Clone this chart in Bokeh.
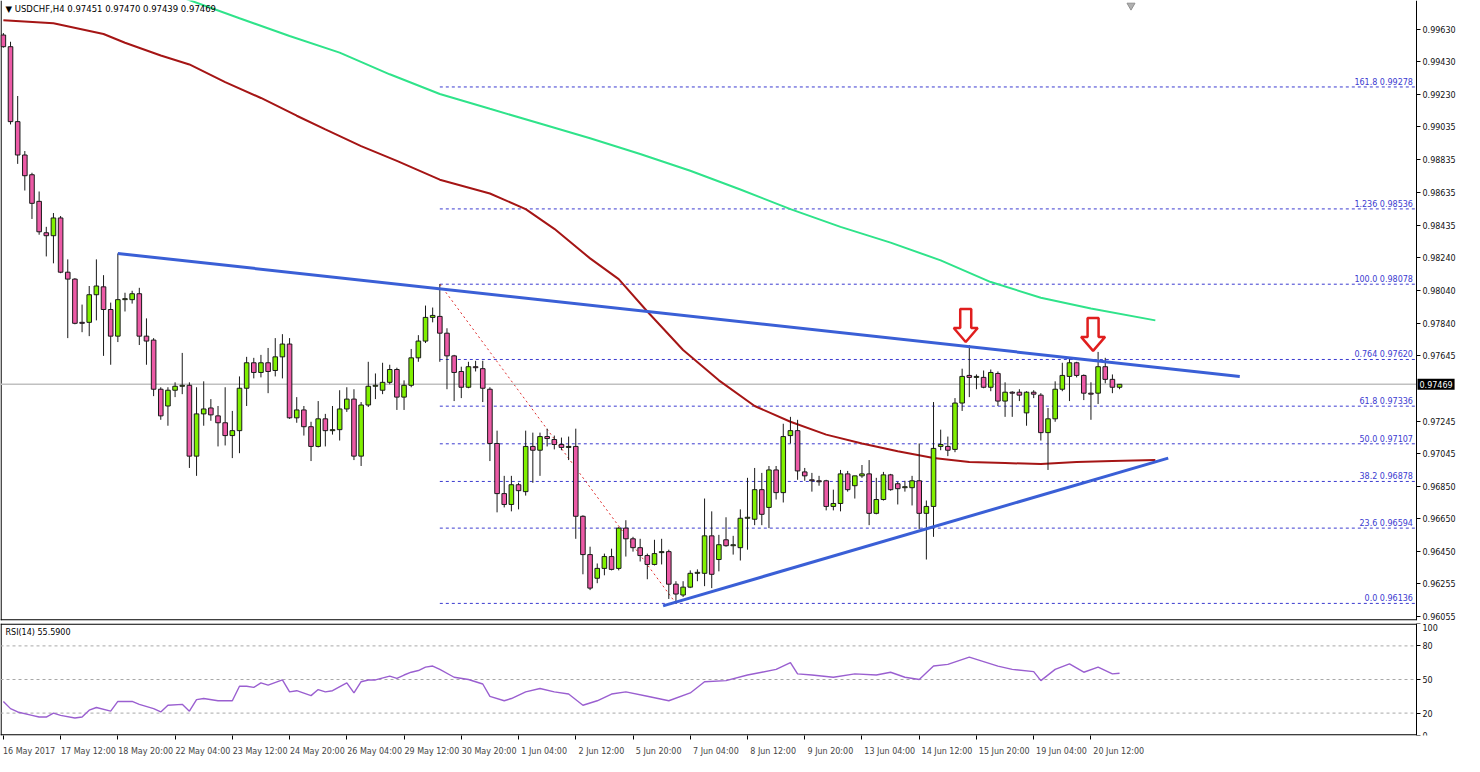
from bokeh.plotting import figure
from bokeh.layouts import column
from bokeh.models import (ColumnDataSource, FixedTicker, LinearAxis, Label, Range1d,
                          CustomJSTickFormatter, PrintfTickFormatter)
from bokeh.embed import file_html
from bokeh.resources import INLINE
from bokeh.core.properties import value

# ---------------- data (USDCHF H4, bar index 0 = 16 May 2017 04:00) ----------------
open_ = [0.99594,0.99523,0.99067,0.98864,0.98744,0.98582,0.98391,0.98373,0.98481,0.98151,
0.98109,0.97846,0.97846,0.98014,0.98062,0.97924,0.97762,0.97984,0.97984,0.98020,
0.97762,0.97738,0.97439,0.97337,0.97433,0.97457,0.97463,0.97032,0.97289,0.97325,
0.97277,0.97235,0.97157,0.97187,0.97445,0.97600,0.97541,0.97600,0.97553,0.97636,
0.97714,0.97265,0.97313,0.97211,0.97091,0.97259,0.97187,0.97193,0.97319,0.97379,
0.97032,0.97343,0.97457,0.97433,0.97481,0.97559,0.97391,0.97463,0.97630,0.97732,
0.97876,0.97882,0.97780,0.97642,0.97547,0.97451,0.97576,0.97564,0.97439,0.97109,
0.96804,0.96738,0.96858,0.96816,0.97091,0.97068,0.97151,0.97133,0.97103,0.97085,
0.97091,0.96666,0.96433,0.96289,0.96349,0.96421,0.96349,0.96594,0.96529,0.96475,
0.96427,0.96373,0.96445,0.96451,0.96253,0.96187,0.96235,0.96319,0.96319,0.96547,
0.96403,0.96523,0.96487,0.96475,0.96654,0.96648,0.96828,0.96720,0.96948,0.96810,
0.97157,0.97187,0.96936,0.96888,0.96882,0.96882,0.96726,0.96744,0.96924,0.96852,
0.96912,0.96924,0.96684,0.96768,0.96918,0.96864,0.96840,0.96840,0.96882,0.96684,
0.96726,0.97091,0.97091,0.97073,0.97355,0.97523,0.97511,0.97511,0.97451,0.97535,
0.97367,0.97421,0.97421,0.97295,0.97421,0.97403,0.97175,0.97259,0.97439,0.97517,
0.97600,0.97523,0.97415,0.97415,0.97576,0.97499,0.97451]

high = [0.99606,0.99553,0.99223,0.98888,0.98756,0.98642,0.98427,0.98511,0.98493,0.98229,
0.98115,0.97954,0.98067,0.98229,0.98133,0.97966,0.98265,0.98026,0.98038,0.98056,
0.97870,0.97750,0.97451,0.97451,0.97481,0.97660,0.97481,0.97451,0.97487,0.97379,
0.97337,0.97451,0.97307,0.97517,0.97636,0.97630,0.97648,0.97690,0.97750,0.97774,
0.97750,0.97391,0.97337,0.97241,0.97367,0.97289,0.97337,0.97433,0.97451,0.97439,
0.97361,0.97606,0.97535,0.97600,0.97588,0.97570,0.97493,0.97684,0.97768,0.97948,
0.97936,0.98078,0.97810,0.97648,0.97576,0.97606,0.97612,0.97612,0.97451,0.97187,
0.96912,0.96912,0.96870,0.97187,0.97175,0.97175,0.97199,0.97157,0.97145,0.97151,
0.97199,0.96672,0.96481,0.96379,0.96439,0.96469,0.96600,0.96642,0.96541,0.96529,
0.96439,0.96523,0.96529,0.96463,0.96271,0.96271,0.96337,0.96343,0.96774,0.96696,
0.96553,0.96660,0.96547,0.96708,0.96900,0.96960,0.96930,0.96972,0.96972,0.97229,
0.97271,0.97253,0.96960,0.96930,0.96912,0.96888,0.96828,0.96948,0.96942,0.96912,
0.96978,0.97008,0.96900,0.96936,0.96924,0.96876,0.96882,0.96912,0.97109,0.96762,
0.97361,0.97193,0.97151,0.97385,0.97564,0.97708,0.97529,0.97553,0.97559,0.97547,
0.97481,0.97427,0.97439,0.97427,0.97433,0.97415,0.97325,0.97487,0.97600,0.97630,
0.97606,0.97529,0.97481,0.97666,0.97630,0.97529,0.97470]

low = [0.99517,0.99050,0.98810,0.98648,0.98475,0.98379,0.98247,0.98205,0.98145,0.97750,
0.97834,0.97786,0.97762,0.97858,0.97642,0.97588,0.97726,0.97912,0.97960,0.97708,
0.97588,0.97397,0.97253,0.97217,0.97391,0.97409,0.96960,0.96912,0.97217,0.97247,
0.97091,0.97097,0.97020,0.97050,0.97337,0.97505,0.97511,0.97415,0.97517,0.97505,
0.97259,0.97235,0.97157,0.97002,0.97085,0.97091,0.97163,0.97127,0.97301,0.97008,
0.96972,0.97331,0.97379,0.97409,0.97469,0.97313,0.97313,0.97451,0.97606,0.97720,
0.97846,0.97606,0.97439,0.97367,0.97385,0.97445,0.97547,0.97361,0.97002,0.96690,
0.96720,0.96696,0.96708,0.96792,0.96870,0.96912,0.97091,0.97073,0.97068,0.97008,
0.96529,0.96313,0.96217,0.96259,0.96307,0.96337,0.96337,0.96421,0.96451,0.96391,
0.96283,0.96367,0.96373,0.96163,0.96136,0.96175,0.96229,0.96271,0.96241,0.96229,
0.96331,0.96481,0.96433,0.96397,0.96463,0.96612,0.96612,0.96594,0.96768,0.96750,
0.97109,0.96888,0.96882,0.96816,0.96852,0.96702,0.96702,0.96696,0.96816,0.96774,
0.96900,0.96612,0.96678,0.96762,0.96822,0.96738,0.96816,0.96732,0.96588,0.96403,
0.96541,0.97068,0.97032,0.97056,0.97307,0.97391,0.97439,0.97445,0.97427,0.97337,
0.97271,0.97271,0.97367,0.97217,0.97385,0.97127,0.96948,0.97241,0.97427,0.97367,
0.97511,0.97373,0.97253,0.97349,0.97475,0.97415,0.97439]

close = [0.99523,0.99067,0.98864,0.98738,0.98570,0.98397,0.98373,0.98481,0.98151,0.98109,
0.97840,0.97840,0.98014,0.98067,0.97924,0.97762,0.97984,0.97990,0.98020,0.97762,
0.97732,0.97439,0.97277,0.97433,0.97457,0.97463,0.97032,0.97289,0.97319,0.97283,
0.97235,0.97157,0.97187,0.97445,0.97600,0.97541,0.97600,0.97547,0.97636,0.97714,
0.97265,0.97313,0.97211,0.97091,0.97259,0.97187,0.97193,0.97319,0.97379,0.97032,
0.97343,0.97457,0.97463,0.97481,0.97559,0.97391,0.97463,0.97630,0.97732,0.97876,
0.97888,0.97780,0.97642,0.97541,0.97451,0.97576,0.97570,0.97445,0.97109,0.96804,
0.96738,0.96858,0.96822,0.97091,0.97068,0.97151,0.97139,0.97103,0.97085,0.97091,
0.96666,0.96433,0.96229,0.96349,0.96421,0.96343,0.96594,0.96529,0.96475,0.96427,
0.96373,0.96439,0.96451,0.96253,0.96193,0.96235,0.96319,0.96325,0.96547,0.96313,
0.96493,0.96487,0.96493,0.96654,0.96660,0.96828,0.96678,0.96948,0.96810,0.97151,
0.97187,0.96942,0.96912,0.96882,0.96876,0.96726,0.96744,0.96924,0.96828,0.96912,
0.96924,0.96684,0.96768,0.96918,0.96828,0.96834,0.96846,0.96882,0.96684,0.96726,
0.97079,0.97103,0.97068,0.97355,0.97517,0.97511,0.97517,0.97451,0.97541,0.97367,
0.97421,0.97415,0.97403,0.97421,0.97409,0.97175,0.97259,0.97439,0.97523,0.97600,
0.97523,0.97415,0.97409,0.97576,0.97499,0.97451,0.97469]

# moving averages (values read at sampled bars; the lines are shifted forward)
ma_red_bar = [0, 7, 14, 17, 22, 26, 31, 36, 41, 45, 50, 55, 61, 68, 73, 77, 82, 86, 90, 95,
              100, 105, 110, 115, 120, 125, 130, 135, 140, 145, 150, 155, 161]
ma_red_val = [0.99684, 0.99666, 0.99600, 0.99547, 0.99469, 0.99415, 0.99307, 0.99211, 0.99103,
              0.99020, 0.98918, 0.98828, 0.98714, 0.98630, 0.98535, 0.98415, 0.98235, 0.98109,
              0.97912, 0.97678, 0.97493, 0.97337, 0.97241, 0.97163, 0.97109, 0.97062, 0.97020,
              0.96996, 0.96990, 0.96984, 0.96996, 0.97002, 0.97008]
ma_green_bar = [25, 33, 40, 47, 54, 61, 68, 75, 82, 89, 96, 103, 110, 117, 124, 131, 138, 145,
                152, 161]
ma_green_val = [0.99822, 0.99696, 0.99588, 0.99487, 0.99355, 0.99235, 0.99145, 0.99056, 0.98966,
                0.98870, 0.98768, 0.98654, 0.98535, 0.98427, 0.98331, 0.98223, 0.98091, 0.97996,
                0.97930, 0.97858]

# RSI(14)
rsi_bar = [0,1,2,4,5,6,7,8,10,11,12,13,15,16,18,19,21,22,23,25,26,27,28,30,32,33,34,35,36,37,
           39,40,41,43,44,45,46,48,49,50,51,52,54,55,56,57,58,59,60,61,63,65,67,68,70,71,73,75,
           77,79,81,83,85,87,90,93,96,98,101,104,106,108,110,111,113,116,119,122,124,126,128,
           130,132,135,137,139,141,144,145,147,149,151,153,155,156]
rsi_val = [30.4,24,21,18,16.5,16.5,20,18,15.6,16.5,22.6,25,21.7,30.4,30.4,27.8,24,21,27,27.8,
           21.7,32,33,31,31,44,44,43,47,45,49.6,39,40,35.6,41,39,40,47,38,48,49.6,49.6,53,51,
           54,56.5,58,61,62,59,52,50,46,35,31,33,39,42,39,37,27,31,37,39,35,31,38,48,49,54,
           56.5,59,65,55,54,52,55,54,56.5,52,50,62,63.5,70,66,62,59,57,49,59,64,56.5,61,55,55.59]
rsi_last = 55.59

x_tick_bars = [0, 8, 16, 24, 32, 40, 48, 56, 64, 72, 80, 88, 96, 104, 112, 120, 128, 136, 144, 152]
x_tick_labels = ["16 May 2017", "17 May 12:00", "18 May 20:00", "22 May 04:00", "23 May 12:00",
                 "24 May 20:00", "26 May 04:00", "29 May 12:00", "30 May 20:00", "1 Jun 04:00",
                 "2 Jun 12:00", "5 Jun 20:00", "7 Jun 04:00", "8 Jun 12:00", "9 Jun 20:00",
                 "13 Jun 04:00", "14 Jun 12:00", "15 Jun 20:00", "19 Jun 04:00", "20 Jun 12:00"]
price_ticks = [0.99630, 0.99430, 0.99230, 0.99035, 0.98835, 0.98635, 0.98435, 0.98240, 0.98040,
               0.97840, 0.97645, 0.97245, 0.97045, 0.96850, 0.96650, 0.96450, 0.96255, 0.96055]
rsi_ticks = [0, 20, 50, 80, 100]
rsi_levels = [20, 50, 80]

fib_names = ["161.8", "1.236", "100.0", "0.764", "61.8", "50.0", "38.2", "23.6", "0.0"]
fib_levels = [0.99278, 0.98536, 0.98078, 0.97620, 0.97336, 0.97107, 0.96878, 0.96594, 0.96136]
fib_start_bar = 61
fib_anchor_bar = [61, 94]
fib_anchor_price = [0.98078, 0.96136]

trend_upper_bar = [16, 172.8]
trend_upper_price = [0.98265, 0.97517]
trend_lower_bar = [92.2, 162.8]
trend_lower_price = [0.96121, 0.97020]

arrow_bar = [134.5, 152.3]
arrow_tip_price = [0.97726, 0.97672]

symbol = "USDCHF,H4"

# ---------------- layout ----------------
CW, FWT, FH, RH = 1416, 1462, 620, 112      # chart-area width, full frame width, heights
X0, X1 = -0.4, 197.5                        # chart-area bar range (price scale sits at X1)
Y0, Y1 = 0.96032, 0.99804
px_per_bar = CW / (X1 - X0)
XE = X0 + FWT / px_per_bar                  # frame extends past the price scale
price_per_px = (Y1 - Y0) / FH
FONT = "DejaVu Sans"
BULL, BEAR = "#80f000", "#ec5aa6"
FIB_C = "#3b3bd0"
EDGE = "#1a1a1a"

n = len(open_)
src = ColumnDataSource(dict(
    x=list(range(n)), h=high, l=low,
    top=[max(a, b) for a, b in zip(open_, close)],
    bot=[min(a, b) for a, b in zip(open_, close)],
    col=[BULL if c >= o else BEAR for o, c in zip(open_, close)],
))


def styled_price_axis(ticks, fmt=None):
    ax = LinearAxis(ticker=FixedTicker(ticks=ticks), fixed_location=X1,
                    major_tick_in=0, major_tick_out=4, minor_tick_line_color=None,
                    axis_line_color="black", major_tick_line_color="black",
                    major_label_text_font=FONT, major_label_text_font_size="8px",
                    major_label_text_color="#111111", major_label_standoff=2)
    if fmt is not None:
        ax.formatter = fmt
    return ax


p = figure(frame_width=FWT, frame_height=FH, x_range=Range1d(X0, XE), y_range=Range1d(Y0, Y1),
           output_backend="svg", toolbar_location=None, x_axis_location=None,
           y_axis_location=None, min_border_left=0, min_border_right=0, min_border_top=0,
           min_border_bottom=3, outline_line_color=None, background_fill_color="white")
p.grid.visible = False
p.add_layout(styled_price_axis(price_ticks, PrintfTickFormatter(format="%.5f")), "right")

# panel borders (left and bottom of the chart area)
p.segment(x0=[X0 + 0.6 / px_per_bar, X0], y0=[Y0, Y0 + 0.6 * price_per_px],
          x1=[X0 + 0.6 / px_per_bar, X1], y1=[Y1, Y0 + 0.6 * price_per_px],
          line_color="black", line_width=1.2)

# fib levels
nf = len(fib_levels)
p.segment(x0=[fib_start_bar] * nf, y0=fib_levels, x1=[X1] * nf, y1=fib_levels,
          line_color=FIB_C, line_dash="3 3", line_width=1)
p.text(x=[X1 - 0.5] * nf, y=fib_levels,
       text=[f"{nm} {lv:.5f}" for nm, lv in zip(fib_names, fib_levels)],
       text_align="right", text_baseline="bottom", text_color=FIB_C,
       text_font=value(FONT), text_font_size="8px")
p.line(fib_anchor_bar, fib_anchor_price, line_color="#e03030", line_dash="2 3", line_width=1)

# bid line
p.segment(x0=[X0], y0=[close[-1]], x1=[X1], y1=[close[-1]], line_color="#c0c0c0", line_width=1.5)

# moving averages
p.line(ma_red_bar, ma_red_val, line_color="#a51515", line_width=2)
p.line(ma_green_bar, ma_green_val, line_color="#2fe38a", line_width=2)

# candles
p.segment(x0="x", y0="h", x1="x", y1="l", source=src, line_color=EDGE, line_width=1)
p.vbar(x="x", top="top", bottom="bot", width=0.64, source=src, fill_color="col",
       line_color=EDGE, line_width=1)

# trend lines
p.line(trend_upper_bar, trend_upper_price, line_color="#3a5fd6", line_width=3)
p.line(trend_lower_bar, trend_lower_price, line_color="#3a5fd6", line_width=3)

# arrows
shape = [(0, 0), (-12, 14), (-5.5, 14), (-5.5, 33), (5.5, 33), (5.5, 14), (12, 14)]
axs = [[b + dx / px_per_bar for dx, dy in shape] for b in arrow_bar]
ays = [[t + dy * price_per_px for dx, dy in shape] for t in arrow_tip_price]
p.patches(axs, ays, fill_color="white", line_color="#e01e1e", line_width=2.5)

# chart-shift marker
p.scatter(x=[157.6], y=[Y1 - 5 * price_per_px], marker="inverted_triangle", size=8,
          fill_color="#b0b0b0", line_color="#909090")

p.add_layout(Label(x=X0, y=Y1, x_offset=5, y_offset=-3, text_baseline="top",
                   text=f"\u25bc {symbol}  {open_[-1]:.5f} {high[-1]:.5f} {low[-1]:.5f} {close[-1]:.5f}",
                   text_font=FONT, text_font_size="8.5px", text_color="black"))
# current price box on the price scale
p.add_layout(Label(x=X1, y=close[-1], x_offset=1, text=f"{close[-1]:.5f}",
                   text_baseline="middle", text_align="left", text_color="white",
                   background_fill_color="black", background_fill_alpha=1.0, padding=2,
                   text_font=FONT, text_font_size="8px"))

# ---------------- RSI panel ----------------
r = figure(frame_width=FWT, frame_height=RH, x_range=p.x_range, y_range=Range1d(0, 100),
           output_backend="svg", toolbar_location=None, x_axis_location=None,
           y_axis_location=None, min_border_left=0, min_border_right=0, min_border_top=0,
           min_border_bottom=0, outline_line_color=None, background_fill_color="white")
r.grid.visible = False
r.add_layout(styled_price_axis(rsi_ticks), "right")

rpp = 100 / RH
r.segment(x0=[X0 + 0.6 / px_per_bar, X0, X0], y0=[0, 0.6 * rpp, 100 - 0.6 * rpp],
          x1=[X0 + 0.6 / px_per_bar, X1, X1], y1=[100, 0.6 * rpp, 100 - 0.6 * rpp],
          line_color="black", line_width=1.2)
nl = len(rsi_levels)
r.segment(x0=[X0] * nl, y0=rsi_levels, x1=[X1] * nl, y1=rsi_levels,
          line_color="#a8a8a8", line_dash="3 3", line_width=1)
r.line(rsi_bar, rsi_val, line_color="#9a5fd0", line_width=1.4)
r.add_layout(Label(x=X0, y=100, x_offset=5, y_offset=-4, text_baseline="top",
                   text=f"RSI(14) {rsi_last:.4f}", text_font=FONT, text_font_size="8px",
                   text_color="black"))

tick_axis = LinearAxis(ticker=FixedTicker(ticks=x_tick_bars),
                       formatter=CustomJSTickFormatter(code="return '';"),
                       major_tick_in=0, major_tick_out=4, minor_tick_line_color=None,
                       axis_line_color=None, major_tick_line_color="black",
                       major_label_text_font_size="1px", major_label_standoff=0)
r.add_layout(tick_axis, "below")

label_pos = [b + (len(t) * 4.3 / 2 + 2) / px_per_bar for b, t in zip(x_tick_bars, x_tick_labels)]
label_axis = LinearAxis(ticker=FixedTicker(ticks=label_pos),
                        formatter=CustomJSTickFormatter(args=dict(pos=label_pos, labels=x_tick_labels), code="""
                            let best = -1, bd = 1e9;
                            for (let i = 0; i < pos.length; i++) {
                                const d = Math.abs(tick - pos[i]);
                                if (d < bd) { bd = d; best = i; }
                            }
                            return bd < 0.01 ? labels[best] : '';
                        """),
                        major_tick_line_color=None, minor_tick_line_color=None,
                        axis_line_color=None, major_label_text_font=FONT,
                        major_label_text_font_size="8px", major_label_standoff=1)
r.add_layout(label_axis, "below")

layout = column(p, r, spacing=0)
open("out.html", "w").write(file_html(layout, INLINE))
